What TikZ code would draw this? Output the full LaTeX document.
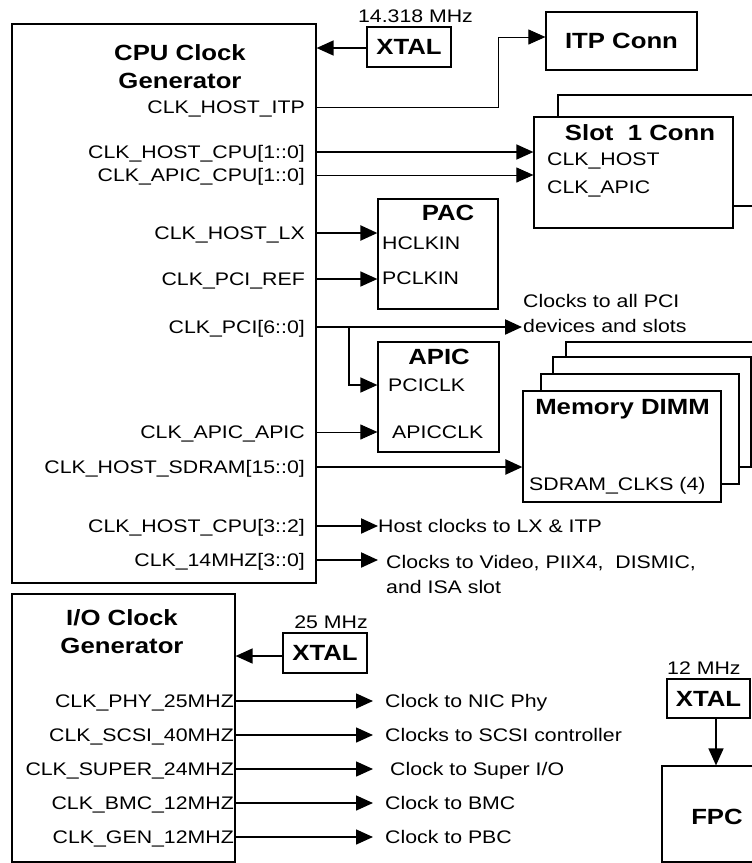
\documentclass[tikz,border=0pt]{standalone}
\usepackage{fontspec}
\setmainfont{Liberation Sans}[FakeStretch=1.17]
\usetikzlibrary{arrows.meta}
\newcommand\sigf{\fontsize{18.2}{24.5}\selectfont}
\newcommand\ttlf{\fontsize{22}{28}\selectfont\bfseries}
\tikzset{
  box/.style={draw, line width=1.2pt, fill=white, inner sep=0pt},
  sig/.style={font=\sigf, inner sep=0pt, text height=13pt, text depth=0pt},
  ttl/.style={font=\ttlf, inner sep=0pt},
  tip/.style={-{Triangle[length=17pt,width=15pt]}},
  thinw/.style={line width=1pt},
  medw/.style={line width=1.5pt},
  thickw/.style={line width=2.2pt},
}
\begin{document}
\begin{tikzpicture}[x=1pt,y=-1pt]
\useasboundingbox (0,0) rectangle (752,863);
% ---------- boxes ----------
\node[box, minimum width=304, minimum height=559] (cpu) at (164,303.5) {};
\node[box, minimum width=84, minimum height=40, font=\ttlf] (xtal1) at (409,47) {XTAL};
\node[box, minimum width=151, minimum height=58, font=\ttlf] (itp) at (621.5,41) {ITP Conn};
\node[box, minimum width=232, minimum height=111] (slotback) at (674,150.5) {};
\node[box, minimum width=199, minimum height=111] (slot) at (633.5,172.5) {};
\node[box, minimum width=120, minimum height=110] (pac) at (438,254) {};
\node[box, minimum width=121, minimum height=110] (apic) at (438.5,397) {};
\node[box, minimum width=224, minimum height=110] (dimm3) at (678,397) {};
\node[box, minimum width=198, minimum height=110] (dimm2) at (652,412) {};
\node[box, minimum width=198, minimum height=110] (dimm1) at (640,429) {};
\node[box, minimum width=198, minimum height=111] (dimm) at (622,446.5) {};
\node[box, minimum width=223, minimum height=268] (io) at (123.5,728) {};
\node[box, minimum width=84, minimum height=40, font=\ttlf] (xtal2) at (325,653) {XTAL};
\node[box, minimum width=83, minimum height=39, font=\ttlf] (xtal3) at (708.5,698.5) {XTAL};
\node[box, minimum width=128, minimum height=96] (fpc) at (726,814) {};
% ---------- titles ----------
\node[ttl, align=center, anchor=north] (cputtl) at (180,44) {CPU Clock\\Generator};
\node[ttl, align=center, anchor=north] (iottl) at (122,609) {I/O Clock\\Generator};
\node[ttl] (slotttl) at (640,133) {Slot\ \ 1 Conn};
\node[ttl] (pacttl) at (448,213) {PAC};
\node[ttl] (apicttl) at (439,357) {APIC};
\node[ttl] (dimmttl) at (622.5,409) {Memory DIMM};
\node[ttl] (fpcttl) at (717,817) {FPC};
% ---------- frequency labels ----------
\node[sig] (f1) at (415.5,16) {14.318 MHz};
\node[sig] (f2) at (331,622) {25 MHz};
\node[sig, anchor=west] (f3) at (667,668) {12 MHz};
% ---------- CPU signal labels ----------
\node[sig, anchor=east] (sItp) at (305,107) {CLK\_HOST\_ITP};
\node[sig, anchor=east] (sHcpu) at (305,152) {CLK\_HOST\_CPU[1::0]};
\node[sig, anchor=east] (sAcpu) at (305,175) {CLK\_APIC\_CPU[1::0]};
\node[sig, anchor=east] (sLx) at (305,233) {CLK\_HOST\_LX};
\node[sig, anchor=east] (sRef) at (305,279) {CLK\_PCI\_REF};
\node[sig, anchor=east] (sPci) at (305,327) {CLK\_PCI[6::0]};
\node[sig, anchor=east] (sAa) at (305,432) {CLK\_APIC\_APIC};
\node[sig, anchor=east] (sSd) at (305,467) {CLK\_HOST\_SDRAM[15::0]};
\node[sig, anchor=east] (sH32) at (305,526) {CLK\_HOST\_CPU[3::2]};
\node[sig, anchor=east] (s14) at (305,560) {CLK\_14MHZ[3::0]};
% ---------- inner pin labels ----------
\node[sig, anchor=west] (pHost) at (547,159) {CLK\_HOST};
\node[sig, anchor=west] (pApic) at (547,187) {CLK\_APIC};
\node[sig, anchor=west] (pH) at (382,243) {HCLKIN};
\node[sig, anchor=west] (pP) at (382,278) {PCLKIN};
\node[sig, anchor=west] (pPci) at (388,385) {PCICLK};
\node[sig, anchor=west] (pApicclk) at (392,432) {APICCLK};
\node[sig, anchor=west] (pSd) at (529,484) {SDRAM\_CLKS (4)};
% ---------- destination texts ----------
\node[font=\sigf, inner sep=0pt, align=left, anchor=north west] (tPci) at (523,294.5) {Clocks to all PCI\\devices and slots};
\node[sig, anchor=west] (tHost) at (378,526) {Host clocks to LX \& ITP};
\node[font=\sigf, inner sep=0pt, align=left, anchor=north west] (t14) at (386,555.5) {Clocks to Video, PIIX4,\ \ DISMIC,\\and ISA slot};
% ---------- I/O signal labels ----------
\node[sig, anchor=east] (iPhy) at (234,701) {CLK\_PHY\_25MHZ};
\node[sig, anchor=east] (iScsi) at (234,735) {CLK\_SCSI\_40MHZ};
\node[sig, anchor=east] (iSup) at (234,769) {CLK\_SUPER\_24MHZ};
\node[sig, anchor=east] (iBmc) at (234,803) {CLK\_BMC\_12MHZ};
\node[sig, anchor=east] (iGen) at (234,837) {CLK\_GEN\_12MHZ};
\node[sig, anchor=west] (dPhy) at (385,701) {Clock to NIC Phy};
\node[sig, anchor=west] (dScsi) at (385,735) {Clocks to SCSI controller};
\node[sig, anchor=west] (dSup) at (390,769) {Clock to Super I/O};
\node[sig, anchor=west] (dBmc) at (385,803) {Clock to BMC};
\node[sig, anchor=west] (dGen) at (385,837) {Clock to PBC};
% ---------- helper coordinates ----------
\coordinate (itpbend) at (498,37);
\coordinate (pciEnd) at (522,327);
\coordinate (pciBr) at (349,327);
\coordinate (cpuOut) at (378,0);
\coordinate (ioOut) at (373,0);
\coordinate (x3a) at (716,0);
% ---------- connectors ----------
\draw[medw, tip] (xtal1.west |- 0,48) -- (cpu.east |- 0,48);
\draw[medw, tip] (xtal2.west |- 0,656) -- (io.east |- 0,656);
\draw[medw, tip] (xtal3.south -| x3a) -- (fpc.north -| x3a);
\draw[thinw, tip] (cpu.east |- sItp) -| (itpbend) -- (itpbend -| itp.west);
\draw[medw, tip] (cpu.east |- sHcpu) -- (slot.west |- sHcpu);
\draw[thinw, tip] (cpu.east |- sAcpu) -- (slot.west |- sAcpu);
\draw[thickw, tip] (cpu.east |- sLx) -- (pac.west |- sLx);
\draw[medw, tip] (cpu.east |- sRef) -- (pac.west |- sRef);
\draw[thickw, tip] (cpu.east |- sPci) -- (pciEnd);
\draw[medw, tip] (pciBr) |- (apic.west |- pPci);
\draw[thinw, tip] (cpu.east |- sAa) -- (apic.west |- sAa);
\draw[thickw, tip] (cpu.east |- sSd) -- (dimm.west |- sSd);
\draw[thickw, tip] (cpu.east |- sH32) -- (tHost.west);
\draw[thickw, tip] (cpu.east |- s14) -- (cpuOut |- s14);
\foreach \n in {iPhy,iScsi,iSup,iBmc,iGen}
  \draw[medw, tip] (io.east |- \n) -- (ioOut |- \n);
\end{tikzpicture}
\end{document}
